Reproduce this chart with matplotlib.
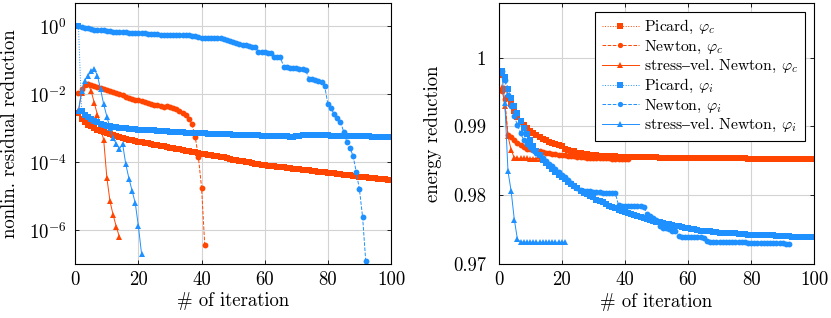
import numpy as np
import matplotlib
matplotlib.use("Agg")
import matplotlib.pyplot as plt

plt.rcParams['font.family'] = ['cmr10', 'DejaVu Serif']
plt.rcParams['mathtext.fontset'] = 'cm'
plt.rcParams['axes.unicode_minus'] = False
plt.rcParams['font.size'] = 13.5

# --- residual reduction (left), one value per iteration starting at 1 ---
res_picard_c = [2.8e-3, 1.9e-3, 1.5e-3, 1.26e-3, 1.12e-3, 1.0e-3, 9.1e-4, 8.3e-4, 7.6e-4, 7.1e-4,
                6.6e-4, 6.2e-4, 5.8e-4, 5.4e-4, 5.1e-4, 4.8e-4, 4.6e-4, 4.4e-4, 4.2e-4, 4.0e-4,
                3.8e-4, 3.6e-4, 3.55e-4, 3.4e-4, 3.25e-4, 3.1e-4, 3.0e-4, 2.9e-4, 2.75e-4, 2.7e-4,
                2.55e-4, 2.45e-4, 2.4e-4, 2.3e-4, 2.2e-4, 2.15e-4, 2.05e-4, 1.95e-4, 1.9e-4, 1.8e-4,
                1.75e-4, 1.65e-4, 1.6e-4, 1.55e-4, 1.5e-4, 1.4e-4, 1.38e-4, 1.32e-4, 1.26e-4, 1.2e-4,
                1.17e-4, 1.12e-4, 1.07e-4, 1.02e-4, 1.0e-4, 9.5e-5, 9.1e-5, 8.9e-5, 8.5e-5, 8.1e-5,
                7.9e-5, 7.8e-5, 7.6e-5, 7.4e-5, 7.2e-5, 7.1e-5, 6.8e-5, 6.6e-5, 6.5e-5, 6.3e-5,
                6.2e-5, 6.0e-5, 5.9e-5, 5.75e-5, 5.6e-5, 5.5e-5, 5.25e-5, 5.1e-5, 5.0e-5, 4.9e-5,
                4.8e-5, 4.7e-5, 4.6e-5, 4.5e-5, 4.3e-5, 4.2e-5, 4.1e-5, 4.0e-5, 3.9e-5, 3.8e-5,
                3.7e-5, 3.6e-5, 3.55e-5, 3.45e-5, 3.4e-5, 3.3e-5, 3.25e-5, 3.15e-5, 3.1e-5, 2.95e-5]
res_newton_c = [1.05e-2, 1.4e-2, 1.9e-2, 2.0e-2, 1.86e-2, 1.74e-2, 1.62e-2, 1.5e-2, 1.4e-2, 1.32e-2,
                1.23e-2, 1.15e-2, 1.07e-2, 1.0e-2, 9.3e-3, 8.5e-3, 7.9e-3, 7.4e-3, 6.9e-3, 6.6e-3,
                6.3e-3, 5.9e-3, 5.5e-3, 5.25e-3, 4.9e-3, 4.7e-3, 4.4e-3, 4.25e-3, 4.4e-3, 4.2e-3,
                3.8e-3, 3.6e-3, 3.2e-3, 2.8e-3, 2.5e-3, 1.9e-3, 1.3e-3, 5.5e-4, 1.4e-4, 1.8e-5, 3.8e-7]
res_stress_c = [3.2e-3, 1.1e-2, 1.8e-2, 2.0e-2, 1.26e-2, 5.6e-3, 2.5e-3, 1.0e-3, 4.5e-4, 3.5e-5,
                7.1e-6, 2.8e-6, 1.26e-6, 6.3e-7]
res_picard_i = [1.0, 3.2e-3, 2.5e-3, 2.1e-3, 1.8e-3, 1.6e-3, 1.5e-3, 1.35e-3, 1.26e-3, 1.17e-3,
                1.12e-3, 1.1e-3, 1.05e-3, 1.02e-3, 1.0e-3, 9.8e-4, 9.5e-4, 9.3e-4, 9.2e-4, 9.1e-4,
                9.0e-4, 8.9e-4, 8.8e-4, 8.7e-4, 8.6e-4, 8.5e-4, 8.3e-4, 8.2e-4, 8.1e-4, 7.9e-4,
                7.8e-4, 7.7e-4, 7.6e-4, 7.5e-4, 7.4e-4, 7.35e-4, 7.3e-4, 7.2e-4, 7.15e-4, 7.1e-4,
                7.0e-4, 6.95e-4, 6.9e-4, 6.8e-4, 6.75e-4, 6.7e-4, 6.65e-4, 6.6e-4, 6.55e-4, 6.5e-4,
                6.45e-4, 6.4e-4, 6.35e-4, 6.3e-4, 6.25e-4, 6.2e-4, 6.15e-4, 6.1e-4, 6.05e-4, 6.0e-4,
                5.95e-4, 5.9e-4, 5.85e-4, 5.8e-4, 5.75e-4, 5.7e-4, 5.7e-4, 5.65e-4, 5.65e-4, 5.7e-4,
                5.9e-4, 6.1e-4, 6.2e-4, 6.25e-4, 6.25e-4, 6.2e-4, 6.2e-4, 6.15e-4, 6.1e-4, 6.1e-4,
                6.05e-4, 6.0e-4, 6.0e-4, 5.95e-4, 5.9e-4, 5.9e-4, 5.85e-4, 5.8e-4, 5.8e-4, 5.75e-4,
                5.75e-4, 5.7e-4, 5.7e-4, 5.65e-4, 5.65e-4, 5.6e-4, 5.6e-4, 5.55e-4, 5.55e-4, 5.5e-4]
res_newton_i = [1.0, 0.93, 0.89, 0.85, 0.81, 0.79, 0.78, 0.76, 0.74, 0.72,
                0.71, 0.69, 0.68, 0.675, 0.66, 0.65, 0.645, 0.63, 0.63, 0.62,
                0.615, 0.605, 0.60, 0.59, 0.575, 0.57, 0.56, 0.56, 0.555, 0.55,
                0.55, 0.545, 0.54, 0.535, 0.535, 0.53, 0.525, 0.52, 0.47, 0.46,
                0.45, 0.45, 0.445, 0.445, 0.44, 0.44, 0.43, 0.39, 0.36, 0.33,
                0.32, 0.30, 0.275, 0.27, 0.265, 0.25, 0.24, 0.178, 0.174, 0.17,
                0.166, 0.158, 0.126, 0.123, 0.12, 0.063, 0.062, 0.06, 0.059, 0.0575,
                0.056, 0.055, 0.0525, 0.028, 0.027, 0.0257, 0.0245, 0.0234, 0.0174, 5.1e-3,
                3.8e-3, 2.6e-3, 1.95e-3, 1.55e-3, 7.9e-4, 4.0e-4, 2.7e-4, 1.5e-4, 5.2e-5, 1.6e-5,
                2.5e-6, 1.26e-7]
res_stress_i = [3.2e-3, 1.26e-2, 2.5e-2, 3.5e-2, 4.7e-2, 5.6e-2, 3.5e-2, 1.4e-2, 5.0e-3, 2.2e-3,
                1.0e-3, 5.0e-4, 3.5e-4, 2.5e-4, 3.4e-4, 8.7e-5, 3.3e-5, 1.45e-5, 6.3e-6, 1.3e-6,
                2.0e-7]

# --- energy reduction (right) ---
en_picard_c = [0.9975, 0.9955, 0.9942, 0.9932, 0.9923, 0.9914, 0.9907, 0.9902, 0.9898, 0.9894,
               0.9891, 0.9888, 0.9885, 0.9882, 0.9880, 0.9878, 0.9876, 0.98745, 0.9873, 0.9871,
               0.9868, 0.98665, 0.9865, 0.9864, 0.9862, 0.9861, 0.9860, 0.98595, 0.9859, 0.98585,
               0.9858, 0.98578, 0.98575, 0.98572, 0.9857, 0.98568, 0.98566, 0.98564, 0.98562, 0.9856,
               0.98559, 0.98558, 0.98557, 0.98556, 0.98555, 0.98554, 0.98553, 0.98552, 0.98551, 0.9855,
               0.98549, 0.98548, 0.98548, 0.98547, 0.98547, 0.98546, 0.98546, 0.98545, 0.98545, 0.98545,
               0.98544, 0.98544, 0.98543, 0.98543, 0.98542, 0.98542, 0.98541, 0.98541, 0.9854, 0.9854,
               0.98539, 0.98539, 0.98538, 0.98538, 0.98537, 0.98537, 0.98536, 0.98536, 0.98535, 0.98535,
               0.98534, 0.98534, 0.98533, 0.98533, 0.98533, 0.98532, 0.98532, 0.98532, 0.98531, 0.98531,
               0.98531, 0.9853, 0.9853, 0.9853, 0.9853, 0.98529, 0.98529, 0.98529, 0.98528, 0.98528]
en_newton_c = [0.9952, 0.9940, 0.9888, 0.9885, 0.9880, 0.9876, 0.9873, 0.9870, 0.9868, 0.9867,
               0.9866, 0.9865, 0.9864, 0.9863, 0.9862, 0.9861, 0.9860, 0.98595, 0.9859, 0.98585,
               0.9858, 0.98575, 0.9857, 0.98565, 0.9856, 0.98555, 0.9855, 0.98548, 0.98545, 0.98542,
               0.9854, 0.98539, 0.98538, 0.98537, 0.98536, 0.98535, 0.98534, 0.98533, 0.98532, 0.98531,
               0.9853]
en_stress_c = [0.9958, 0.9930, 0.9886, 0.9866, 0.98545, 0.9854, 0.98538, 0.98537, 0.98536, 0.98535,
               0.98535, 0.98535, 0.98535, 0.98535]
en_picard_i = [0.9981, 0.9972, 0.9955, 0.9942, 0.9930, 0.9919, 0.9908, 0.9898, 0.9889, 0.9880,
               0.9872, 0.9865, 0.9858, 0.9852, 0.9847, 0.9842, 0.9838, 0.9834, 0.9830, 0.9827,
               0.9824, 0.9820, 0.9817, 0.9813, 0.9810, 0.9807, 0.9804, 0.9802, 0.9799, 0.9797,
               0.9794, 0.9792, 0.9790, 0.9787, 0.9785, 0.9783, 0.9781, 0.9779, 0.9778, 0.9776,
               0.9774, 0.9773, 0.9771, 0.9770, 0.9768, 0.9767, 0.9766, 0.9764, 0.9763, 0.9762,
               0.9761, 0.9760, 0.9759, 0.9758, 0.9757, 0.9756, 0.9755, 0.9754, 0.9753, 0.9752,
               0.9751, 0.9751, 0.9750, 0.9749, 0.9749, 0.9748, 0.9748, 0.9747, 0.9747, 0.9746,
               0.9746, 0.9746, 0.9745, 0.9745, 0.9745, 0.9744, 0.9744, 0.9744, 0.9743, 0.9743,
               0.9743, 0.9743, 0.9742, 0.9742, 0.9742, 0.9742, 0.9742, 0.9741, 0.9741, 0.9741,
               0.9741, 0.9741, 0.9740, 0.9740, 0.9740, 0.9740, 0.9740, 0.9740, 0.9740, 0.9740]
en_newton_i = [0.9980, 0.9968, 0.9945, 0.9930, 0.9915, 0.9902, 0.9890, 0.9880, 0.9874, 0.9870,
               0.9866, 0.9862, 0.9858, 0.9854, 0.9850, 0.9846, 0.9842, 0.9838, 0.9834, 0.9830,
               0.9826, 0.9822, 0.9818, 0.9814, 0.9811, 0.9808, 0.9807, 0.9806, 0.9806, 0.9805,
               0.9805, 0.9805, 0.9804, 0.9804, 0.9804, 0.9803, 0.9803, 0.9786, 0.9785, 0.9785,
               0.9785, 0.9784, 0.9784, 0.9784, 0.9784, 0.9783, 0.9773, 0.9770, 0.9767, 0.9764,
               0.9755, 0.9753, 0.9752, 0.9751, 0.9749, 0.9748, 0.9741, 0.9740, 0.9740, 0.9740,
               0.9739, 0.9739, 0.9739, 0.9739, 0.9738, 0.9734, 0.9733, 0.9733, 0.9733, 0.9733,
               0.9733, 0.9733, 0.9732, 0.9732, 0.9732, 0.9732, 0.9732, 0.9732, 0.97315, 0.97315,
               0.97315, 0.97315, 0.97315, 0.97315, 0.97315, 0.9731, 0.9731, 0.9731, 0.9731, 0.9731,
               0.9730, 0.9730]
en_stress_i = [0.9978, 0.9934, 0.9835, 0.9806, 0.9765, 0.9736, 0.97325, 0.9732, 0.9732, 0.9732,
               0.9732, 0.9732, 0.9732, 0.9732, 0.9732, 0.9732, 0.9732, 0.9732, 0.9732, 0.9732,
               0.9732]

labels = ['Picard, $\\varphi_c$', 'Newton, $\\varphi_c$', 'stress$\u2013$vel. Newton, $\\varphi_c$',
          'Picard, $\\varphi_i$', 'Newton, $\\varphi_i$', 'stress$\u2013$vel. Newton, $\\varphi_i$']

orange = '#ff4500'
blue = '#1e90ff'
styles = [(orange, ':', 's'), (orange, '--', 'o'), (orange, '-', '^'),
          (blue, ':', 's'), (blue, '--', 'o'), (blue, '-', '^')]

left_data = [res_picard_c, res_newton_c, res_stress_c, res_picard_i, res_newton_i, res_stress_i]
right_data = [en_picard_c, en_newton_c, en_stress_c, en_picard_i, en_newton_i, en_stress_i]

fig = plt.figure(figsize=(8.31, 3.18), dpi=100)
ax1 = fig.add_axes([0.0906, 0.1708, 0.3799, 0.8189])
ax2 = fig.add_axes([0.5999, 0.1689, 0.3800, 0.8208])

for ax, data in [(ax1, left_data), (ax2, right_data)]:
    for (c, ls, m), vals, lab in zip(styles, data, labels):
        it = np.arange(1, len(vals) + 1)
        ax.plot(it, vals, color=c, linestyle=ls, marker=m, ms=4.2, mew=0, lw=0.7, label=lab)
    ax.set_xlim(0, 100)
    ax.set_xticks([0, 20, 40, 60, 80, 100])
    ax.grid(True, color='#d3d3d3', lw=0.8)
    ax.set_axisbelow(True)
    ax.tick_params(direction='in', length=3, width=0.6, top=True, right=True, pad=5)
    ax.minorticks_off()
    for s in ax.spines.values():
        s.set_linewidth(0.8)
    ax.set_xlabel('# of iteration')
    ax.xaxis.set_label_coords(0.5, -0.11)

ax1.set_yscale('log')
ax1.set_ylim(10 ** -6.98, 10 ** 0.668)
ax1.set_yticks([1e-6, 1e-4, 1e-2, 1], labels=['$10^{-6}$', '$10^{-4}$', '$10^{-2}$', '$10^{0}$'])
ax1.minorticks_off()
ax1.tick_params(axis='y', pad=6)
ax1.set_ylabel('nonlin. residual reduction')
ax1.yaxis.set_label_coords(-0.178, 0.5)

ax2.set_ylim(0.97, 1.00788)
ax2.set_yticks([0.97, 0.98, 0.99, 1.0], labels=['0.97', '0.98', '0.99', '1'])
ax2.tick_params(axis='y', pad=9)
ax2.set_ylabel('energy reduction')
ax2.yaxis.set_label_coords(-0.179, 0.5)

leg = ax2.legend(loc='upper right', bbox_to_anchor=(0.97, 0.967), borderaxespad=0,
                 fancybox=False, framealpha=1, edgecolor='black', fontsize=11.3,
                 handlelength=2.35, labelspacing=0.15, borderpad=0.4, handletextpad=0.38,
                 markerscale=0.9)
leg.get_frame().set_linewidth(0.8)

fig.savefig('out.png', dpi=100)
